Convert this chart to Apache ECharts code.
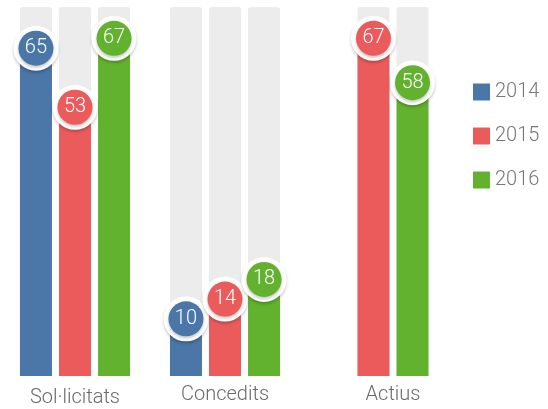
<!DOCTYPE html>
<html>
<head>
<meta charset="utf-8">
<script src="https://cdn.jsdelivr.net/npm/echarts@6/dist/echarts.min.js"></script>
<style>
html,body{margin:0;padding:0;background:#fff;}
#chart{width:548px;height:409px;}
</style>
</head>
<body>
<div id="chart"></div>
<script>
var categories = ['Sol·licitats', 'Concedits', 'Actius'];
var years = ['2014', '2015', '2016'];
var values2014 = [65, 10, null];
var values2015 = [53, 14, 67];
var values2016 = [67, 18, 58];
var yearValues = [values2014, values2015, values2016];
var colors = ['#4a76a8', '#eb5b5c', '#63b22f'];
var axisMax = 75;

var gridLefts = [0, 150, 318];
var labelMargins = [12, 9, 9];
var grids = [], xAxes = [], yAxes = [], series = [];
categories.forEach(function (cat, g) {
  grids.push({left: gridLefts[g], width: 150, top: 7, bottom: 33});
  xAxes.push({
    type: 'category', gridIndex: g, data: [cat],
    axisLine: {show: false}, axisTick: {show: false},
    axisLabel: {fontSize: 20, color: '#6a6a6a', margin: labelMargins[g], fontFamily: 'Roboto', fontWeight: 300}
  });
  yAxes.push({type: 'value', gridIndex: g, min: 0, max: axisMax, show: false, splitLine: {show: false}});
  years.forEach(function (yr, s) {
    var v = yearValues[s][g];
    if (v === null || v === undefined) return;
    series.push({
      type: 'bar', name: yr, xAxisIndex: g, yAxisIndex: g,
      data: [v], barWidth: 32, barGap: '22%',
      itemStyle: {color: colors[s]},
      showBackground: true,
      backgroundStyle: {color: '#ececec', borderRadius: [3, 3, 0, 0]},
      label: {
        show: true, position: 'top', distance: -9.5,
        formatter: '{c}', color: '#fff', fontSize: 20,
        fontFamily: 'Roboto', fontWeight: 300,
        backgroundColor: colors[s], borderColor: '#fff', borderWidth: 5,
        borderRadius: 18, width: 35, height: 35, lineHeight: 35, align: 'center',
        shadowColor: 'rgba(0,0,0,0.22)', shadowBlur: 3, shadowOffsetY: 2
      }
    });
  });
});

var chart = echarts.init(document.getElementById('chart'), null, {renderer: 'canvas'});
chart.setOption({
  animation: false,
  color: colors,
  grid: grids, xAxis: xAxes, yAxis: yAxes,
  legend: {
    data: years, orient: 'vertical', left: 468, top: 77,
    itemWidth: 17, itemHeight: 17, itemGap: 24, icon: 'rect',
    textStyle: {fontSize: 20, color: '#777', fontFamily: 'Roboto', fontWeight: 300}
  },
  series: series
});
</script>
</body>
</html>
